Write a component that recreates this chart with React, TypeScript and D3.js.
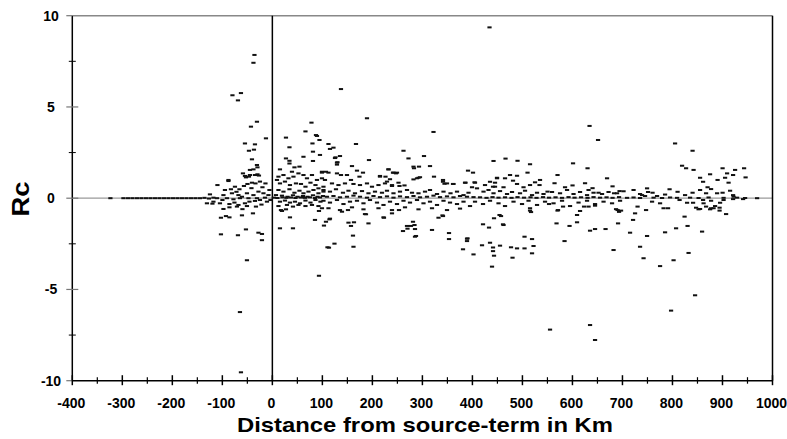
import React from "react";
import * as d3 from "d3";

// ---- data: [distance in km, Rc] ----
const westTail: [number, number][] = [
  [-324, 0], [-298, 0], [-289, 0], [-280, 0], [-271, 0], [-262, 0], [-253, 0], [-244, 0],
  [-235, 0], [-226, 0], [-217, 0], [-208, 0], [-199, 0], [-190, 0], [-181, 0], [-172, 0],
  [-163, 0], [-154, 0], [-145, 0], [-136, 0.02], [-127, -0.02], [-118, 0.03],
];

const westCluster: [number, number][] = [
  [-110, 0.72], [-125, 0.21], [-131, -0.28], [-118, -0.19], [-105, -0.28], [-98, -0.59],
  [-88, 0.94], [-86, -0.32], [-83, 0.49], [-76, -0.24], [-75, 0.63], [-71, -0.46],
  [-68, -0.37], [-66, 0.49], [-57, 0.67], [-55, -0.28], [-53, 1.14], [-51, -0.43],
  [-50, 0.78], [-46, -0.19], [-45, 1.27], [-45, 1.55], [-41, 0.85], [-38, 1.58],
  [-35, -0.15], [-34, 0.81], [-33, -0.46], [-31, 1.82], [-30, 1.69], [-30, 1.31],
  [-25, 0.91], [-25, -0.1], [-14, 0.81], [-11, -0.19], [-4, -0.1], [-86, -0.5],
  [-59, 1.36], [-98, 0.17], [-81, 0.27], [-68, 0.17], [-61, 0.08], [-51, 0.27],
  [-38, 0.17], [-28, 0.36], [-18, 0.27], [-8, 0.17], [-111, 0], [-91, 0], [-78, -0.06],
  [-65, 0], [-48, 0], [-31, 0], [-15, 0.03], [-55, 1.22], [-47, 1.18], [-35, 1.27],
  [-27, 1.24], [-88, 1.0], [-120, -0.3], [-95, 0.45], [-60, -0.6], [-42, 0.55],
  [-20, 0.6], [-6, 0.45], [-72, 0.35], [-100, -0.1], [-22, -0.35],
];

const westHigh: [number, number][] = [
  [-36, 7.85], [-38, 7.42], [-80, 5.64], [-69, 5.36], [-63, 5.76], [-31, 4.19],
  [-43, 3.92], [-13, 3.28], [-55, 3.0], [-35, 2.95], [-47, 2.6], [-37, 2.66], [-41, 2.13],
];

const westLow: [number, number][] = [
  [-103, -1.98], [-69, -2.03], [-53, -1.71], [-28, -1.89], [-21, -1.96], [-21, -2.3],
  [-51, -3.4], [-65, -6.24], [-63, -9.54], [-103, -1.07], [-93, -0.98], [-86, -1.05],
  [-61, -0.94], [-39, -0.83],
];

const eastBand: [number, number][] = [
  [12, 1.18], [22, 1.27], [32, 1.09], [42, 1.18], [52, 1.36], [62, 1.27], [69, 1.09],
  [79, 1.27], [89, 1.0], [99, 1.09], [15, 0.81], [25, 0.91], [35, 0.72], [47, 0.81],
  [57, 0.78], [66, 0.63], [76, 0.85], [86, 0.72], [92, 0.54], [102, 0.63], [12, 0.45],
  [22, 0.36], [34, 0.49], [44, 0.3], [54, 0.41], [62, 0.27], [72, 0.36], [82, 0.45],
  [92, 0.27], [102, 0.36], [7, 0.17], [19, 0.14], [30, 0.08], [41, 0.16], [50, 0.08],
  [61, 0.12], [70, 0.08], [81, 0.16], [90, 0.08], [101, 0.12], [15, -0.19], [25, -0.13],
  [35, -0.24], [45, -0.19], [55, -0.28], [66, -0.13], [76, -0.24], [86, -0.1], [96, -0.19],
  [12, -0.43], [29, -0.37], [41, -0.46], [52, -0.37], [66, -0.43], [79, -0.37], [92, -0.43],
  [17, -0.65], [27, -0.61], [9, 1.0], [39, 1.45],
  [99, 1.45], [112, 1.4], [129, 1.36], [137, 1.27], [149, 1.27], [157, 1.0], [105, 1.0],
  [119, 0.81], [132, 0.72], [145, 0.81], [162, 0.78], [175, 0.72], [189, 0.81], [199, 0.63],
  [212, 0.72], [225, 0.81], [239, 0.67], [102, 0.45], [115, 0.36], [127, 0.49], [141, 0.3],
  [152, 0.41], [165, 0.27], [179, 0.39], [192, 0.27], [205, 0.36], [219, 0.3], [229, 0.41],
  [242, 0.27], [255, 0.36], [269, 0.45], [279, 0.3], [292, 0.27], [305, 0.36], [315, 0.45],
  [329, 0.23], [342, 0.36], [356, 0.27], [369, 0.36], [382, 0.17], [392, 0.3], [399, 0.6],
  [386, 0.85],
  [109, 0.08], [122, 0.12], [135, 0.05], [149, 0.08], [162, 0.14], [175, 0.08], [189, 0.03],
  [202, 0.12], [215, 0.06], [229, 0.1], [242, 0.03], [255, 0.1], [269, 0.06], [282, 0.12],
  [295, 0.05], [309, 0.08], [322, 0.14], [335, 0.06], [349, 0.1], [362, 0.05], [375, 0.12],
  [389, 0.08], [402, 0.06],
  [102, -0.14], [115, -0.24], [129, -0.1], [142, -0.32], [155, -0.19], [169, -0.14],
  [182, -0.28], [195, -0.1], [209, -0.24], [222, -0.37], [235, -0.19], [249, -0.32],
  [262, -0.14], [275, -0.24], [289, -0.1], [302, -0.28], [315, -0.19], [329, -0.37],
  [342, -0.14], [355, -0.24], [369, -0.32], [382, -0.19], [395, -0.43],
  [112, -0.55], [135, -0.65], [159, -0.5], [182, -0.61], [212, -0.55], [239, -0.65],
  [265, -0.5], [292, -0.61], [319, -0.55], [349, -0.65], [375, -0.57],
  [215, 1.22], [232, 1.58], [242, 1.4], [249, 1.4], [229, 0.91], [239, 0.72], [252, 0.85],
  [264, 0.7], [282, 1.03], [292, 1.12], [341, 1.0], [349, 0.81], [362, 0.78], [385, 0.85],
  [405, 0.85], [435, 0.9], [445, 0.85], [449, 1.12], [441, 0.63],
  [409, 0.54], [422, 0.36], [432, 0.45], [442, 0.27], [455, 0.39], [469, 0.23], [479, 0.34],
  [495, 0.27], [505, 0.41], [519, 0.17], [529, 0.3], [542, 0.23], [559, 0.34], [575, 0.27],
  [589, 0.45], [602, 0.23], [615, 0.34], [629, 0.17], [642, 0.3], [659, 0.23], [672, 0.34],
  [689, 0.27], [702, 0.38], [425, 0.72], [445, 0.63], [462, 0.6], [502, 0.6], [515, 0.72],
  [585, 0.6], [600, 0.7], [640, 0.55], [680, 0.65],
  [415, 0.05], [428, 0.02], [440, 0.06], [452, 0.03], [465, 0.05], [478, 0.02], [490, 0.06],
  [503, 0.03], [516, 0.05], [528, 0.02], [541, 0.06], [553, 0.03], [566, 0.05], [579, 0.02],
  [592, 0.06], [604, 0.03], [617, 0.05], [630, 0.02], [642, 0.06], [655, 0.03], [668, 0.05],
  [680, 0.02], [693, 0.06],
  [405, -0.19], [421, -0.32], [435, -0.14], [452, -0.28], [465, -0.43], [482, -0.19],
  [499, -0.32], [512, -0.14], [529, -0.37], [545, -0.19], [562, -0.28], [579, -0.14],
  [595, -0.43], [612, -0.24], [629, -0.14], [645, -0.32], [662, -0.19], [679, -0.28],
  [695, -0.14],
  [749, 0.54], [751, 0.34], [739, 0.17], [745, 0.12], [769, 0.12], [825, 0.17], [870, 0.6],
  [877, 0.5], [867, 0.27], [889, 0.27], [915, 0.41], [921, 0.17], [922, 0.08], [722, 0.45],
  [735, 0.23], [760, 0.3], [785, 0.2], [810, 0.35], [840, 0.3], [855, 0.45], [900, 0.3],
  [709, 0.02], [722, 0.04], [735, 0.01], [762, 0.03], [779, 0.01], [795, 0.04], [809, 0.02],
  [835, 0.03], [852, 0.01], [872, 0.04], [902, 0.02], [929, 0.03], [945, 0.01], [969, 0],
  [3, 0.03], [10, 0.01], [20, 0.05], [28, 0.02], [37, 0.04], [46, 0.01], [57, 0.04],
  [65, 0.02], [75, 0.05], [85, 0.01], [95, 0.04],
];

const eastHigh: [number, number][] = [
  [137, 5.98], [189, 4.38], [78, 4.14], [66, 3.66], [87, 3.46], [94, 3.19], [322, 3.63],
  [27, 3.32], [80, 3.0], [112, 2.97], [122, 2.77], [167, 2.97], [34, 2.79], [81, 2.55],
  [95, 2.37], [126, 2.24], [135, 2.31], [62, 2.27], [262, 2.6], [272, 2.18], [303, 2.31],
  [442, 2.04], [193, 2.09], [27, 2.18], [34, 2.05], [34, 1.9], [81, 2.04], [129, 1.95],
  [129, 1.84], [282, 1.73], [293, 1.73], [315, 1.76], [323, 1.18], [391, 1.51], [401, 1.4],
  [89, 3.41], [44, 1.69], [54, 1.73], [15, 1.58], [99, 1.4], [107, 1.45], [115, 2.7],
  [125, 2.2], [130, 1.97], [159, 1.76], [169, 1.51], [181, 1.4], [174, 1.18], [232, 1.58],
  [241, 1.4], [247, 1.36], [215, 1.18], [226, 1.18], [235, 1.04], [254, 0.67], [283, 1.64],
  [289, 1.09], [295, 1.15], [341, 0.9], [344, 0.79], [361, 0.78], [434, 9.36], [634, 3.96],
  [651, 3.19], [805, 3.0], [840, 2.6], [819, 1.78], [827, 1.64], [842, 1.55], [855, 1.12],
  [861, 0.9], [875, 1.31], [890, 1.0], [900, 1.64], [905, 1.12], [912, 0.85], [909, 1.36],
  [925, 1.55], [943, 1.64], [946, 1.14], [466, 2.17], [490, 2.05], [515, 1.86], [601, 1.91],
  [630, 1.64], [570, 1.27], [669, 1.09], [794, 0.49], [404, 0.87], [449, 1.09], [465, 1.09],
  [475, 1.27], [489, 1.23], [481, 0.96], [489, 0.78], [510, 1.4], [525, 0.87], [535, 1.0],
  [534, 0.72], [550, 0.36], [564, 0.82], [625, 0.82], [632, 0.45], [652, 0.3], [683, 0.27],
  [694, 0.39], [921, 1.27],
];

const eastLow: [number, number][] = [
  [19, -0.7], [35, -1.05], [93, -0.7], [85, -1.19], [115, -1.12], [107, -1.29], [103, -1.5],
  [113, -2.71], [124, -2.49], [93, -4.25], [139, -0.74], [151, -0.65], [152, -1.34],
  [163, -1.32], [157, -1.52], [161, -2.05], [162, -2.66], [187, -0.88], [192, -1.38],
  [223, -1.07], [239, -0.83], [253, -0.65], [261, -1.8], [269, -1.52], [277, -1.52],
  [281, -1.29], [284, -1.47], [285, -1.69], [285, -2.11], [319, -1.74], [332, -1.07],
  [340, -0.94], [353, -1.91], [353, -2.24], [381, -2.8], [389, -2.35], [389, -2.22],
  [402, -3.08], [421, -1.43], [433, -1.61], [419, -2.58], [435, -2.44], [441, -2.7],
  [441, -2.9], [443, -3.15], [439, -3.75], [443, -1.1], [454, -0.92], [461, -1.43],
  [455, -2.6], [477, -2.69], [480, -3.26], [489, -2.75], [504, -2.75], [504, -2.11],
  [519, -2.24], [522, -2.62], [519, -3.02], [515, -0.55], [515, -0.68], [555, -7.2],
  [568, -1.38], [584, -2.35], [571, -0.65], [581, -0.46], [594, -1.52], [609, -1.32],
  [609, -0.92], [615, -0.7], [623, -0.46], [632, -0.46], [645, -0.41], [635, -1.78],
  [645, -1.69], [635, -6.95], [645, -7.77], [666, -1.69], [682, -2.84], [691, -1.38],
  [687, -0.6], [693, -0.75], [715, -1.89], [721, -1.19], [725, -0.83], [735, -2.66],
  [742, -3.29], [749, -2.07], [775, -3.72], [785, -1.87], [797, -6.16], [802, -3.4],
  [807, -1.65], [824, -1.01], [830, -1.52], [832, -3.0], [845, -5.32], [859, -1.83],
  [855, -0.59], [867, -0.46], [875, -0.61], [882, -0.55], [894, -0.68], [907, -0.87],
  [15, -1.65], [41, -1.65], [99, -0.55], [114, -1.16], [110, -2.69], [185, -0.87],
  [222, -1.05], [270, -1.67], [287, -2.07], [341, -0.98], [390, -2.2], [457, -0.98],
  [462, -1.47], [553, -0.32], [570, -0.68], [517, -0.76], [690, -0.65], [697, -0.68],
  [747, -0.65], [730, -0.46], [759, -0.19], [775, -0.28], [782, -0.55], [791, -0.55],
  [814, -0.1], [829, -0.25], [841, -0.25], [847, -0.52], [852, -0.61], [861, -0.1],
  [862, -0.28], [877, -0.14], [877, -0.55], [885, -0.43], [894, -0.52], [895, -0.25],
  [902, -0.1], [921, -0.05], [941, -0.05],
];

const xTicks = [-400, -300, -200, -100, 0, 100, 200, 300, 400, 500, 600, 700, 800, 900, 1000];
const xMinorTicks = [-350, -250, -150, -50, 50, 150, 250, 350, 450, 550, 650, 750, 850, 950];
const yTicks = [-10, -5, 0, 5, 10];
const yMinorTicks = [-7.5, -2.5, 2.5, 7.5];

const xTitle = "Distance from source-term in Km";
const yTitle = "Rc";

const FONT = "Arial, 'Liberation Sans', sans-serif";

export default function App() {
  const W = 787;
  const H = 439;
  const x = d3.scaleLinear().domain([-400, 1000]).range([72.3, 772.5]);
  const y = d3.scaleLinear().domain([-10, 10]).range([380.7, 15.7]);
  const [x0, x1] = x.range();
  const [yb, yt] = y.range();

  const all = [...westTail, ...westCluster, ...westHigh, ...westLow, ...eastBand, ...eastHigh, ...eastLow];

  return (
    <svg
      width={W}
      height={H}
      style={{ position: "absolute", left: 0, top: 0, background: "#fff" }}
      fontFamily={FONT}
    >
      <rect x={0} y={0} width={W} height={H} fill="#fff" />
      <line x1={x0} x2={x1} y1={y(0)} y2={y(0)} stroke="#9a9a9a" strokeWidth={1.2} />
      <line x1={x0} x2={x1} y1={yt} y2={yt} stroke="#888" strokeWidth={1.5} />
      <line x1={x1} x2={x1} y1={yt} y2={yb} stroke="#000" strokeWidth={1.5} />
      <line x1={x(0)} x2={x(0)} y1={yt} y2={yb} stroke="#000" strokeWidth={1.5} />

      {all.map((d, i) => (
        <rect key={i} x={x(d[0]) - 2} y={y(d[1]) - 1} width={4.2} height={2} fill="#111" />
      ))}

      <line x1={x0} x2={x0} y1={yt} y2={yb} stroke="#000" strokeWidth={1.5} />
      {yTicks.map((t) => (
        <g key={"yt" + t}>
          <line x1={x0 - 6} x2={t === 10 || t === -10 ? x0 : x0 + 6} y1={y(t)} y2={y(t)} stroke="#777" strokeWidth={1.2} />
          <text x={51} y={y(t) + 4.8} textAnchor="middle" fontSize={14} fontWeight={700} fill="#000">
            {t}
          </text>
        </g>
      ))}
      {yMinorTicks.map((t) => (
        <line key={"ym" + t} x1={x0 - 3.5} x2={x0 + 3.5} y1={y(t)} y2={y(t)} stroke="#000" strokeWidth={1} />
      ))}

      <line x1={x0} x2={x1} y1={yb} y2={yb} stroke="#000" strokeWidth={1.5} />
      {xTicks.map((t) => (
        <g key={"xt" + t}>
          <line x1={x(t)} x2={x(t)} y1={yb - 5.5} y2={yb + 4.5} stroke="#000" strokeWidth={1.5} />
          <text x={x(t) - 1} y={407.5} textAnchor="middle" fontSize={14} fontWeight={700} fill="#000">
            {t}
          </text>
        </g>
      ))}
      {xMinorTicks.map((t) => (
        <line key={"xm" + t} x1={x(t)} x2={x(t)} y1={yb - 3.5} y2={yb + 3} stroke="#000" strokeWidth={1.2} />
      ))}

      <text
        x={425}
        y={432}
        textAnchor="middle"
        fontSize={21}
        fontWeight={700}
        fill="#000"
        textLength={376}
        lengthAdjust="spacingAndGlyphs"
      >
        {xTitle}
      </text>
      <text
        transform={`translate(29.3, ${199}) rotate(-90)`}
        textAnchor="middle"
        fontSize={23}
        fontWeight={700}
        fill="#000"
        textLength={35}
        lengthAdjust="spacingAndGlyphs"
      >
        {yTitle}
      </text>
    </svg>
  );
}
